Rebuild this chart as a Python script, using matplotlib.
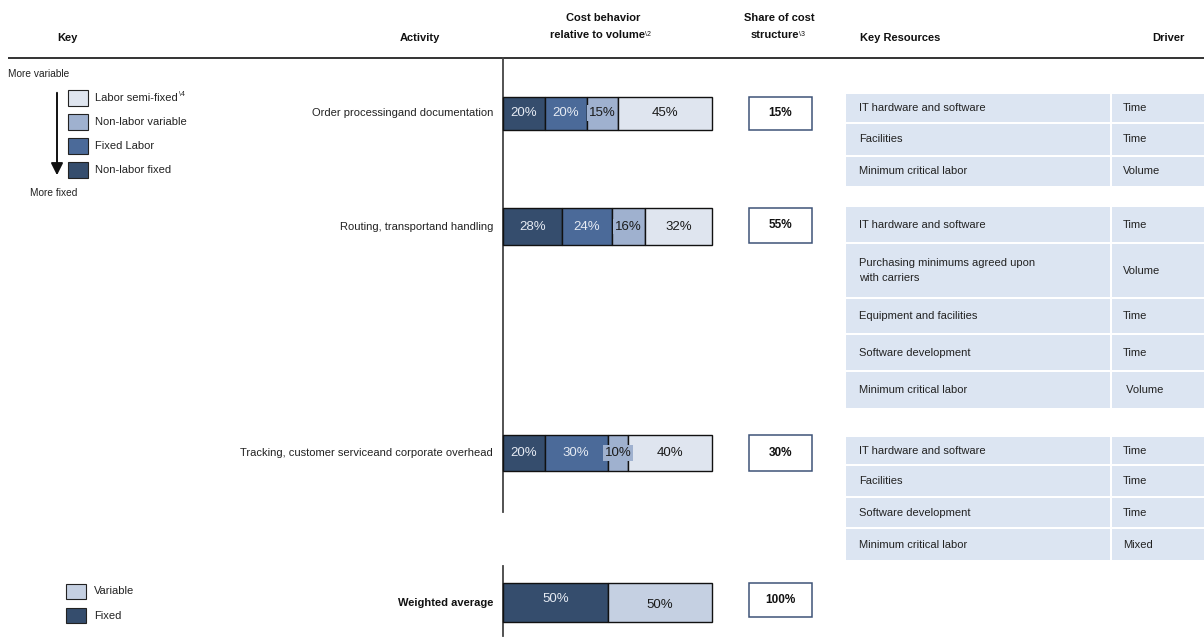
import matplotlib
matplotlib.use("Agg")
import matplotlib.pyplot as plt
from matplotlib.patches import Rectangle, FancyArrowPatch

plt.rcParams['font.family'] = ['Liberation Sans', 'DejaVu Sans']

# ---- data ----
activities = ["Order processingand documentation",
              "Routing, transportand handling",
              "Tracking, customer serviceand corporate overhead"]
segment_names = ["Non-labor fixed", "Fixed Labor", "Non-labor variable", "Labor semi-fixed"]
non_labor_fixed = [20, 28, 20]
fixed_labor = [20, 24, 30]
non_labor_variable = [15, 16, 10]
labor_semi_fixed = [45, 32, 40]
share_of_cost = [15, 55, 30]
weighted_fixed = 50
weighted_variable = 50
weighted_share = 100

resources = [
    ["IT hardware and software", "Facilities", "Minimum critical labor"],
    ["IT hardware and software", "Purchasing minimums agreed upon\nwith carriers",
     "Equipment and facilities", "Software development", "Minimum critical labor"],
    ["IT hardware and software", "Facilities", "Software development", "Minimum critical labor"],
]
drivers = [
    ["Time", "Time", "Volume"],
    ["Time", "Volume", "Time", "Time", " Volume"],
    ["Time", "Time", "Time", "Mixed"],
]

# ---- styling ----
C_NLF = "#354d6d"
C_FL = "#4b6a99"
C_NLV = "#9fb1cf"
C_LSF = "#dfe5ef"
C_VAR = "#c5d0e2"
C_CELL = "#dce5f2"
C_BOX = "#3e5378"
seg_colors = [C_NLF, C_FL, C_NLV, C_LSF]
seg_text = ["#e6ebf3", "#e6ebf3", "#1a1a1a", "#1a1a1a"]

W, H = 1204, 642
fig = plt.figure(figsize=(W / 100, H / 100), dpi=100)
ax = fig.add_axes([0, 0, 1, 1])
ax.set_xlim(0, W)
ax.set_ylim(H, 0)
ax.axis("off")

# ---- header ----
hb = dict(fontsize=8, fontweight="bold", ha="center", va="center", color="#111111")
ax.text(67, 38, "Key", **hb)
ax.text(420, 38, "Activity", **hb)
ax.text(603, 18, "Cost behavior", **hb)
ax.text(597, 35, "relative to volume", **hb)
ax.text(645, 34, "\\2", fontsize=5, ha="left", va="center", color="#111111")
ax.text(779, 18, "Share of cost", **hb)
ax.text(775, 35, "structure", **hb)
ax.text(799, 34, "\\3", fontsize=5, ha="left", va="center", color="#111111")
ax.text(860, 38, "Key Resources", fontsize=8, fontweight="bold", ha="left", va="center", color="#111111")
ax.text(1168, 38, "Driver", **hb)
ax.plot([8, W], [58, 58], color="#111111", lw=1.2, solid_capstyle="butt")

# axis line of the bar block
ax.plot([503, 503], [58, 512], color="#444444", lw=1.3)
ax.plot([503, 503], [566, 636], color="#444444", lw=1.3)

# ---- key ----
ax.text(8, 74, "More variable", fontsize=7.3, ha="left", va="center", color="#222222")
ax.text(30, 193, "More fixed", fontsize=7.3, ha="left", va="center", color="#222222")
ax.add_patch(FancyArrowPatch((57, 90), (57, 178), arrowstyle="-|>,head_length=6,head_width=3",
                             color="#111111", lw=1.4, mutation_scale=1.2))
key_order = ["Labor semi-fixed", "Non-labor variable", "Fixed Labor", "Non-labor fixed"]
key_cols = [C_LSF, C_NLV, C_FL, C_NLF]
for i, (name, col) in enumerate(zip(key_order, key_cols)):
    y0 = 90 + i * 24
    ax.add_patch(Rectangle((68, y0), 20, 16, facecolor=col, edgecolor="#222222", lw=0.8))
    ax.text(95, y0 + 8, name, fontsize=8, ha="left", va="center", color="#222222")
ax.text(179, 95, "\\4", fontsize=5, ha="left", va="center", color="#222222")

ax.add_patch(Rectangle((66, 584), 20, 15, facecolor=C_VAR, edgecolor="#222222", lw=0.8))
ax.text(94, 591, "Variable", fontsize=8, ha="left", va="center", color="#222222")
ax.add_patch(Rectangle((66, 608), 20, 15, facecolor=C_NLF, edgecolor="#222222", lw=0.8))
ax.text(94, 616, "Fixed", fontsize=8, ha="left", va="center", color="#222222")

# ---- stacked bars (0-100 % scale) ----
bx = fig.add_axes([503 / W, 0, 209 / W, 1])
bx.set_xlim(0, 100)
bx.set_ylim(H, 0)
bx.axis("off")

row_y = [113, 226.5, 453]
row_h = [33, 37, 36]
series = [non_labor_fixed, fixed_labor, non_labor_variable, labor_semi_fixed]
for r in range(len(activities)):
    left = 0
    for s, vals in enumerate(series):
        v = vals[r]
        bars = bx.barh(row_y[r], v, left=left, height=row_h[r], color=seg_colors[s],
                       edgecolor="#111111", lw=1.0)
        for b in bars:
            b.set_clip_on(False)
        kw = {}
        if s == 2:
            kw["bbox"] = dict(boxstyle="square,pad=0.12", facecolor=C_NLV, edgecolor="none")
        bx.text(left + v / 2, row_y[r], f"{v}%", fontsize=9.5, ha="center", va="center",
                color=seg_text[s], **kw)
        left += v
    ax.text(493, row_y[r], activities[r], fontsize=8, ha="right", va="center", color="#222222")

wy, wh = 602.5, 39
for b in bx.barh(wy, weighted_fixed, left=0, height=wh, color=C_NLF, edgecolor="#111111", lw=1.0):
    b.set_clip_on(False)
for b in bx.barh(wy, weighted_variable, left=weighted_fixed, height=wh, color=C_VAR,
                 edgecolor="#111111", lw=1.0):
    b.set_clip_on(False)
bx.text(weighted_fixed / 2, wy - 4, f"{weighted_fixed}%", fontsize=9.5, ha="center",
        va="center", color="#e6ebf3")
bx.text(weighted_fixed + weighted_variable / 2, wy + 2, f"{weighted_variable}%", fontsize=9.5,
        ha="center", va="center", color="#1a1a1a")
ax.text(493, wy, "Weighted average", fontsize=8, fontweight="bold", ha="right", va="center",
        color="#111111")

# ---- share of cost boxes ----
box_rows = [(97, 33), (208, 35), (435, 36), (583, 34)]
box_vals = share_of_cost + [weighted_share]
for (y0, h), v in zip(box_rows, box_vals):
    ax.add_patch(Rectangle((749, y0), 63, h, facecolor="white", edgecolor=C_BOX, lw=1.1))
    ax.text(780.5, y0 + h / 2, f"{v}%", fontsize=8.5, fontweight="bold", ha="center",
            va="center", color="#111111")

# ---- key resources table ----
row_bounds = [
    [(94, 122), (124, 155), (157, 186)],
    [(207, 242), (244, 297), (299, 333), (335, 370), (372, 408)],
    [(437, 464), (466, 496), (498, 527), (529, 560)],
]
for g in range(len(resources)):
    for (y0, y1), res, drv in zip(row_bounds[g], resources[g], drivers[g]):
        ax.add_patch(Rectangle((846, y0), 264, y1 - y0, facecolor=C_CELL, edgecolor="none"))
        ax.add_patch(Rectangle((1112, y0), 92, y1 - y0, facecolor=C_CELL, edgecolor="none"))
        ax.text(859, (y0 + y1) / 2, res, fontsize=8, ha="left", va="center", color="#222222",
                linespacing=1.6)
        ax.text(1123, (y0 + y1) / 2, drv, fontsize=8, ha="left", va="center", color="#222222")

fig.savefig("out.png", dpi=100)
